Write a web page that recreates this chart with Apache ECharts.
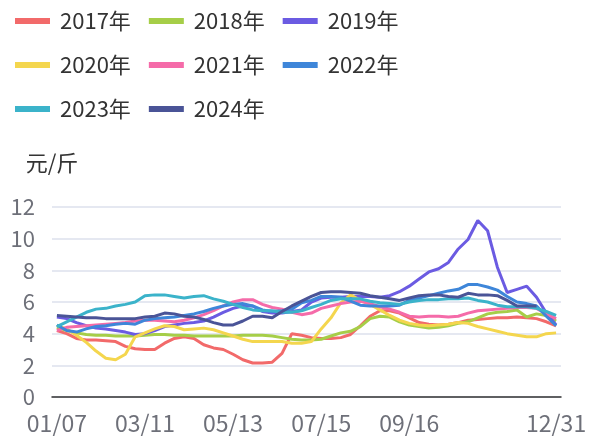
<!DOCTYPE html>
<html>
<head>
<meta charset="utf-8">
<script src="https://cdn.jsdelivr.net/npm/echarts@6/dist/echarts.min.js"></script>
<style>
  html, body { margin: 0; padding: 0; background: #fff; }
  #chart { width: 594px; height: 439px; }
</style>
</head>
<body>
<div id="chart"></div>
<script>
// ----------資料----------
const dates = [
  '01/07', '01/14', '01/21', '01/28', '02/04', '02/11', '02/18', '02/25', '03/04', '03/11',
  '03/18', '03/25', '04/01', '04/08', '04/15', '04/22', '04/29', '05/06', '05/13', '05/20',
  '05/27', '06/03', '06/10', '06/17', '06/24', '07/01', '07/08', '07/15', '07/22', '07/29',
  '08/05', '08/12', '08/19', '08/26', '09/02', '09/09', '09/16', '09/23', '09/30', '10/07',
  '10/14', '10/21', '10/28', '11/04', '11/11', '11/18', '11/25', '12/02', '12/09', '12/16',
  '12/23', '12/31'
];

const y2017 = [4.2, 4.0, 3.7, 3.6, 3.6, 3.55, 3.5, 3.2, 3.05, 3.0, 3.0, 3.4, 3.7, 3.8, 3.7, 3.3, 3.1, 3.0, 2.7, 2.35,
  2.15, 2.15, 2.2, 2.75, 4.0, 3.9, 3.75, 3.7, 3.7, 3.75, 3.95, 4.5, 5.1, 5.45, 5.45, 5.3, 5.0, 4.7, 4.6, 4.55,
  4.6, 4.7, 4.85, 4.9, 4.95, 5.0, 5.0, 5.05, 5.0, 4.95, 4.75, 4.5];
const y2018 = [4.4, 4.2, 4.05, 3.95, 3.9, 3.9, 3.85, 3.85, 3.85, 3.9, 3.95, 3.95, 3.9, 3.9, 3.85, 3.85, 3.85, 3.85, 3.85, 3.9,
  3.9, 3.9, 3.85, 3.75, 3.65, 3.6, 3.6, 3.65, 3.85, 4.05, 4.15, 4.45, 4.95, 5.1, 5.05, 4.75, 4.55, 4.45, 4.35, 4.4,
  4.5, 4.65, 4.75, 5.0, 5.25, 5.35, 5.4, 5.5, 5.05, 5.25, 5.15, 4.8];
const y2019 = [5.05, 4.95, 4.7, 4.5, 4.35, 4.3, 4.2, 4.1, 3.95, 4.0, 4.2, 4.45, 4.55, 4.65, 4.7, 4.8, 5.05, 5.35, 5.6, 5.75,
  5.75, 5.4, 5.3, 5.3, 5.4, 5.5, 6.0, 6.25, 6.3, 6.3, 6.35, 6.35, 6.35, 6.3, 6.4, 6.65, 7.0, 7.45, 7.9, 8.1,
  8.5, 9.35, 9.95, 11.15, 10.5, 8.2, 6.6, 6.8, 7.0, 6.3, 5.3, 4.55];
const y2020 = [4.5, 4.3, 3.9, 3.45, 2.9, 2.45, 2.35, 2.7, 3.8, 4.05, 4.3, 4.5, 4.45, 4.25, 4.3, 4.35, 4.25, 4.05, 3.85, 3.65,
  3.5, 3.5, 3.5, 3.5, 3.4, 3.4, 3.5, 4.3, 5.0, 5.95, 6.45, 6.1, 5.85, 5.5, 5.15, 4.85, 4.65, 4.55, 4.5, 4.55,
  4.6, 4.7, 4.65, 4.45, 4.3, 4.15, 4.0, 3.9, 3.8, 3.8, 4.0, 4.05];
const y2021 = [4.2, 4.4, 4.45, 4.5, 4.55, 4.6, 4.65, 4.7, 4.8, 4.85, 4.85, 4.8, 4.75, 4.85, 5.0, 5.2, 5.45, 5.75, 6.0, 6.15,
  6.15, 5.85, 5.65, 5.55, 5.35, 5.2, 5.3, 5.6, 5.75, 5.9, 6.0, 6.05, 5.9, 5.7, 5.55, 5.35, 5.1, 5.05, 5.1, 5.1,
  5.05, 5.1, 5.3, 5.45, 5.5, 5.55, 5.6, 5.65, 5.65, 5.6, 5.25, 4.95];
const y2022 = [4.55, 4.2, 4.1, 4.3, 4.45, 4.5, 4.6, 4.65, 4.6, 4.85, 4.95, 5.0, 5.05, 5.15, 5.25, 5.4, 5.6, 5.75, 5.85, 5.9,
  5.75, 5.5, 5.4, 5.45, 5.55, 5.95, 6.1, 6.35, 6.35, 6.3, 6.05, 5.8, 5.75, 5.75, 5.75, 5.8, 6.1, 6.25, 6.4, 6.55,
  6.7, 6.8, 7.1, 7.1, 6.95, 6.75, 6.35, 6.0, 5.9, 5.75, 5.1, 4.5];
const y2023 = [4.45, 4.75, 5.05, 5.35, 5.55, 5.6, 5.75, 5.85, 6.0, 6.4, 6.45, 6.45, 6.35, 6.25, 6.35, 6.4, 6.2, 6.05, 5.85, 5.65,
  5.5, 5.45, 5.45, 5.35, 5.35, 5.45, 5.65, 5.85, 6.1, 6.2, 6.2, 6.2, 6.05, 5.95, 5.9, 5.85, 6.0, 6.1, 6.15, 6.15,
  6.2, 6.2, 6.25, 6.1, 6.0, 5.8, 5.7, 5.7, 5.7, 5.6, 5.4, 5.15];
const y2024 = [5.15, 5.1, 5.05, 5.0, 5.0, 4.95, 4.95, 4.95, 4.95, 5.05, 5.1, 5.3, 5.25, 5.1, 5.05, 4.9, 4.7, 4.55, 4.55, 4.8,
  5.1, 5.1, 5.0, 5.4, 5.75, 6.05, 6.35, 6.6, 6.65, 6.65, 6.6, 6.55, 6.4, 6.3, 6.2, 6.1, 6.25, 6.4, 6.45, 6.45,
  6.35, 6.3, 6.55, 6.45, 6.45, 6.4, 6.1, 5.75, 5.75, 5.75];

const seriesNames = ['2017年', '2018年', '2019年', '2020年', '2021年', '2022年', '2023年', '2024年'];
const seriesData = [y2017, y2018, y2019, y2020, y2021, y2022, y2023, y2024];
const colors = ['#F26A6A', '#A6CE48', '#6B5BE2', '#F4D64E', '#F56BA9', '#3E86D9', '#3BB3CA', '#4A5497'];
const yTicks = [0, 2, 4, 6, 8, 10, 12];

// x 軸只顯示部份日期
const labelIndex = [0, 9, 18, 27, 36, 51];

// ----------圖表----------
const chart = echarts.init(document.getElementById('chart'));

const option = {
  animation: false,
  color: colors,
  textStyle: { fontFamily: '"Noto Sans CJK SC", "Noto Sans", sans-serif' },
  legend: {
    left: 15,
    top: 8,
    padding: 0,
    width: 420,
    itemWidth: 35,
    itemHeight: 6,
    itemGap: 18,
    icon: 'rect',
    textStyle: {
      fontSize: 22,
      color: '#333',
      lineHeight: 26,
      padding: [0, 0, 0, 5],
    },
    data: seriesNames,
  },
  grid: {
    left: 52,
    right: 33,
    top: 207,
    bottom: 42,
  },
  xAxis: {
    type: 'category',
    data: dates,
    axisLine: { lineStyle: { color: '#333', width: 1.5 } },
    axisTick: { interval: 8, length: 10, lineStyle: { color: '#333', width: 1.5 } },
    axisLabel: {
      interval: (i) => labelIndex.includes(i),
      fontSize: 23,
      lineHeight: 24,
      color: '#6E7079',
      margin: 14,
    },
  },
  yAxis: {
    type: 'value',
    name: '元/斤',
    nameGap: 33,
    nameTextStyle: { fontSize: 22, color: '#333', align: 'center' },
    min: yTicks[0],
    max: yTicks[yTicks.length - 1],
    interval: 2,
    axisLine: { show: false },
    axisTick: { show: false },
    axisLabel: { fontSize: 22, lineHeight: 22, color: '#6E7079', margin: 17 },
    splitLine: { lineStyle: { color: '#DDE1EC', width: 1.5 } },
  },
  series: seriesNames.map((name, idx) => ({
    name,
    type: 'line',
    data: seriesData[idx],
    showSymbol: false,
    symbol: 'none',
    lineStyle: { width: 3 },
  })),
};

chart.setOption(option);

// 強制更新一次文字元件的位置 (第一個 x 軸標籤有時會偏移)
chart.getZr().storage.getDisplayList(true).forEach((el) => {
  if (el.style && typeof el.style.text === 'string') {
    el.getBoundingRect();
  }
});
</script>
</body>
</html>
